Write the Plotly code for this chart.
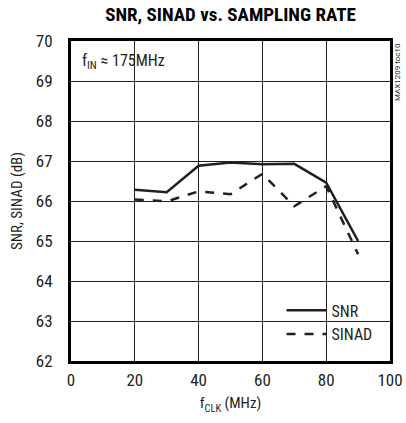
import plotly.graph_objects as go

# Datos
f_clk = [20, 30, 40, 50, 60, 70, 80, 90]
snr = [66.28, 66.22, 66.88, 66.96, 66.92, 66.93, 66.46, 65.00]
sinad = [66.04, 65.99, 66.24, 66.17, 66.68, 65.87, 66.37, 64.67]

x_ticks = [0, 20, 40, 60, 80, 100]
y_ticks = [62, 63, 64, 65, 66, 67, 68, 69, 70]

FONT = 'Roboto Condensed, Roboto, sans-serif'
INK = '#231f20'

fig = go.Figure()

fig.add_trace(go.Scatter(
    x=f_clk, y=snr, mode='lines', name='SNR',
    line=dict(color=INK, width=2.5)
))
fig.add_trace(go.Scatter(
    x=f_clk, y=sinad, mode='lines', name='SINAD',
    line=dict(color=INK, width=2.5, dash='dash')
))

# fondo blanco detrás del texto de la leyenda
fig.add_shape(type='rect', xref='paper', yref='paper',
              x0=0.805, x1=0.975, y0=0.03, y1=0.16,
              fillcolor='white', line=dict(width=0), layer='below')

fig.add_annotation(
    text='f<sub>IN</sub> ≈ 175MHz', xref='paper', yref='paper',
    x=0.028, y=0.975, xanchor='left', yanchor='top', showarrow=False,
    font=dict(family=FONT, size=16, color=INK)
)
fig.add_annotation(
    text='MAX1209 toc10', xref='paper', yref='paper',
    x=1.022, y=1.0, xanchor='center', yanchor='top', textangle=-90,
    showarrow=False, font=dict(family='Roboto, sans-serif', size=8, color=INK)
)

fig.update_layout(
    width=406, height=423,
    margin=dict(l=71, r=16, t=41, b=62),
    paper_bgcolor='white', plot_bgcolor='white',
    title=dict(
        text='<b>SNR, SINAD vs. SAMPLING RATE</b>',
        xref='paper', x=0.5, xanchor='center', y=0.965, yanchor='middle',
        font=dict(family=FONT, size=19, color='black')
    ),
    xaxis=dict(
        range=[0, 100], tickvals=x_ticks, ticks='', automargin=False,
        showgrid=True, gridcolor=INK, gridwidth=1,
        showline=True, linecolor='black', linewidth=3, mirror=True,
        zeroline=False, tickfont=dict(family=FONT, size=17, color=INK),
        ticklabelstandoff=2,
        title=dict(text='f<sub>CLK</sub> (MHz)', standoff=9,
                   font=dict(family=FONT, size=15, color=INK)),
        fixedrange=True
    ),
    yaxis=dict(
        range=[62, 70], tickvals=y_ticks, ticks='', automargin=False,
        showgrid=True, gridcolor=INK, gridwidth=1,
        showline=True, linecolor='black', linewidth=3, mirror=True,
        zeroline=False, tickfont=dict(family=FONT, size=17, color=INK),
        ticklabelstandoff=12,
        title=dict(text='SNR, SINAD (dB)', standoff=10,
                   font=dict(family=FONT, size=15, color=INK)),
        fixedrange=True
    ),
    legend=dict(
        x=0.66, y=0.03, xanchor='left', yanchor='bottom',
        bgcolor='rgba(0,0,0,0)', borderwidth=0,
        font=dict(family=FONT, size=16, color=INK),
        itemwidth=40, tracegroupgap=0
    ),
    showlegend=True,
)

# quitar el margen por defecto del body para que la figura quede en (0,0)
fig.write_html("out.html", config={'displayModeBar': False},
               post_script="document.body.style.margin='0';")
